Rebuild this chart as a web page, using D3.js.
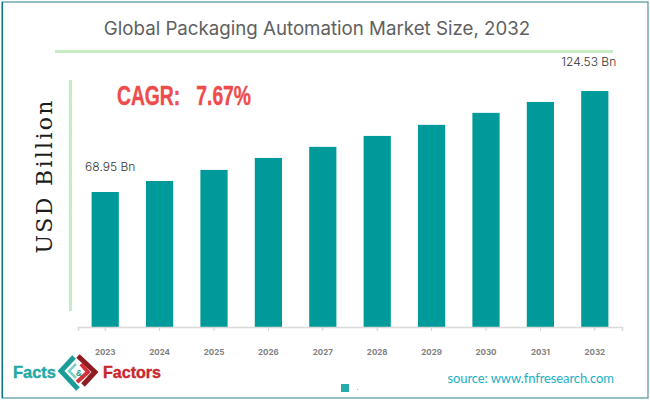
<!DOCTYPE html>
<html>
<head>
<meta charset="utf-8">
<script src="https://cdn.jsdelivr.net/npm/d3@7"></script>
<style>
  html, body { margin: 0; padding: 0; background: #fff; }
  svg { display: block; }
</style>
</head>
<body>
<div id="chart"></div>
<script>
var years = ["2023", "2024", "2025", "2026", "2027", "2028", "2029", "2030", "2031", "2032"];
var marketSize = [68.95, 75.0, 81.1, 87.7, 93.8, 99.8, 105.9, 112.5, 118.5, 124.53];
var valueLabels = ["68.95 Bn", "", "", "", "", "", "", "", "", "124.53 Bn"];

var width = 650, height = 400;
var baseY = 327;

var svg = d3.select("#chart").append("svg")
  .attr("width", width)
  .attr("height", height);

// outer frame
svg.append("rect")
  .attr("x", 2).attr("y", 2)
  .attr("width", 646).attr("height", 396)
  .attr("fill", "none")
  .attr("stroke", "#4b93a3")
  .attr("stroke-width", 1.2);
svg.append("line")
  .attr("x1", 2.5).attr("x2", 2.5).attr("y1", 2).attr("y2", 398)
  .attr("stroke", "#0e7282")
  .attr("stroke-width", 1.2);

// title and the green rules
svg.append("text")
  .attr("x", 317).attr("y", 35)
  .attr("text-anchor", "middle")
  .attr("font-family", "Inter, 'Open Sans', sans-serif")
  .attr("font-size", 18.7)
  .attr("fill", "#606060")
  .text("Global Packaging Automation Market Size, 2032");

svg.append("rect")
  .attr("x", 55).attr("y", 50)
  .attr("width", 558).attr("height", 3)
  .attr("fill", "#c5ecc2");

svg.append("rect")
  .attr("x", 69).attr("y", 80)
  .attr("width", 3).attr("height", 231)
  .attr("fill", "#c5ecc2");

var x = d3.scaleBand()
  .domain(years)
  .range([78, 622])
  .paddingInner(0.5)
  .paddingOuter(0.25);

var y = d3.scaleLinear()
  .domain([68.95, 124.53])
  .range([192, 91]);

svg.selectAll("rect.bar")
  .data(marketSize)
  .enter().append("rect")
  .attr("class", "bar")
  .attr("x", function(d, i) { return x(years[i]); })
  .attr("y", function(d) { return y(d); })
  .attr("width", x.bandwidth())
  .attr("height", function(d) { return baseY - y(d); })
  .attr("fill", "#009a9a");

var xAxis = svg.append("g")
  .attr("transform", "translate(0," + baseY + ")")
  .call(d3.axisBottom(x).tickSize(4).tickPadding(18));

xAxis.select(".domain")
  .attr("stroke", "#d9d9d9")
  .attr("stroke-width", 1.5);
xAxis.selectAll(".tick line")
  .attr("stroke", "#d0d0d0");
xAxis.selectAll(".tick text")
  .attr("font-family", "Inter, 'Open Sans', sans-serif")
  .attr("font-size", 8)
  .attr("font-weight", 700)
  .attr("fill", "#7f7f7f");

// only first and last bars are labelled
svg.selectAll("text.value")
  .data(marketSize)
  .enter().append("text")
  .attr("class", "value")
  .attr("x", function(d, i) { return x(years[i]) + x.bandwidth() / 2 + (i == 0 ? 5 : -6); })
  .attr("y", function(d) { return y(d) - (d > 100 ? 25 : 21); })
  .attr("text-anchor", "middle")
  .attr("font-family", "Inter, 'Open Sans', sans-serif")
  .attr("font-size", 12)
  .attr("font-weight", 300)
  .attr("fill", "#333")
  .text(function(d, i) { return valueLabels[i]; });

svg.append("text")
  .attr("transform", "translate(52,177) rotate(-90)")
  .attr("text-anchor", "middle")
  .attr("font-family", "'DejaVu Serif', serif")
  .attr("font-size", 22)
  .attr("textLength", 153)
  .attr("fill", "#1c1c1c")
  .text("USD Billion");

svg.append("text")
  .attr("x", 117).attr("y", 105)
  .attr("font-family", "'Liberation Sans', sans-serif")
  .attr("font-size", 27)
  .attr("font-weight", 700)
  .attr("textLength", 134)
  .attr("lengthAdjust", "spacingAndGlyphs")
  .attr("fill", "#ee4b4b")
  .attr("stroke", "#ee4b4b")
  .attr("stroke-width", 0.4)
  .style("white-space", "pre")
  .text("CAGR:   7.67%");

// legend swatch, its label is empty in the source
svg.append("rect")
  .attr("x", 341).attr("y", 384)
  .attr("width", 8).attr("height", 8)
  .attr("fill", "#26abab");
svg.append("circle")
  .attr("cx", 357.5).attr("cy", 389.5)
  .attr("r", 0.5)
  .attr("fill", "#999");

svg.append("text")
  .attr("x", 447.5).attr("y", 383)
  .attr("font-family", "Lato, 'Open Sans', sans-serif")
  .attr("font-size", 13)
  .attr("textLength", 166.5)
  .attr("fill", "#1bb0c4")
  .text("source: www.fnfresearch.com");

// logo
var logo = svg.append("g");
logo.append("text")
  .attr("x", 13).attr("y", 378)
  .attr("font-family", "'Liberation Sans', sans-serif")
  .attr("font-size", 17)
  .attr("font-weight", 700)
  .attr("textLength", 43)
  .attr("lengthAdjust", "spacingAndGlyphs")
  .attr("fill", "#1fa9a5")
  .attr("stroke", "#1fa9a5")
  .attr("stroke-width", 0.4)
  .text("Facts");
logo.append("text")
  .attr("x", 103).attr("y", 378)
  .attr("font-family", "'Liberation Sans', sans-serif")
  .attr("font-size", 17)
  .attr("font-weight", 700)
  .attr("textLength", 58)
  .attr("lengthAdjust", "spacingAndGlyphs")
  .attr("fill", "#c9262e")
  .attr("stroke", "#c9262e")
  .attr("stroke-width", 0.4)
  .text("Factors");

// interlocked chevrons of the mark
var chevrons = [
  {d: "M74 357 L61 371 L78 389", stroke: "#1a9d98", w: 5},
  {d: "M76 364 L69 371 L76 378", stroke: "#7fcfca", w: 2.5},
  {d: "M78 356 L95 372 L83 385", stroke: "#8e1c22", w: 5},
  {d: "M81 364 L88 372 L77 382", stroke: "#d2313a", w: 4}
];
logo.selectAll("path")
  .data(chevrons)
  .enter().append("path")
  .attr("d", function(c) { return c.d; })
  .attr("fill", "none")
  .attr("stroke", function(c) { return c.stroke; })
  .attr("stroke-width", function(c) { return c.w; });
logo.append("text")
  .attr("x", 79).attr("y", 376)
  .attr("text-anchor", "middle")
  .attr("font-family", "'Liberation Sans', sans-serif")
  .attr("font-size", 9)
  .attr("font-weight", 700)
  .attr("fill", "#2a9d8f")
  .text("&");
</script>
</body>
</html>
